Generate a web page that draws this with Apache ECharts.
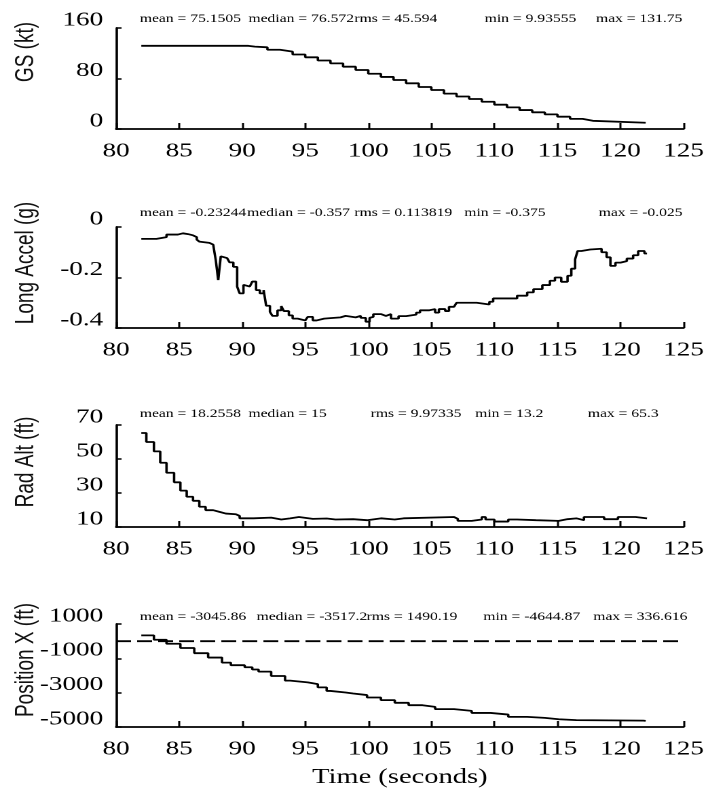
<!DOCTYPE html>
<html>
<head>
<meta charset="utf-8">
<script src="https://cdn.jsdelivr.net/npm/echarts@6/dist/echarts.min.js"></script>
<style>
  html, body { margin: 0; padding: 0; background: #fff; overflow: hidden; }
  /* the plot is laid out on a narrow page and widened horizontally */
  #chart { width: 523px; height: 798px; transform: scaleX(1.3576); transform-origin: 0 0; }
</style>
</head>
<body>
<div id="chart"></div>
<script>
// Ground speed (kt), sample-and-hold
const gsTime = [82, 90, 90.5, 91, 92, 93, 94, 95, 96, 97, 98, 99, 100, 101, 102, 103, 104, 105, 106, 107, 108, 109, 110, 111, 112, 113, 114, 115, 116, 117, 117.8, 122];
const gsValue = [131.75, 131.75, 130.5, 129.4, 125.5, 122.5, 118, 113.6, 108.5, 104, 98.7, 93.5, 87.5, 82.5, 77.6, 72.4, 66.5, 61.8, 56, 51.5, 47.5, 43.2, 38.5, 34.3, 30, 26.4, 23.2, 19.5, 16, 13, 9.94, 9.94];

// Longitudinal acceleration (g)
const accTime = [82, 83.2, 84.0, 84.9, 85.3, 85.7, 86.1, 86.4, 86.6, 86.8, 87.4, 87.7, 87.9, 88.1, 88.3, 88.45, 88.8, 89.0, 89.3, 89.6, 89.8, 90.1, 90.3, 90.6, 90.8, 91.1, 91.4, 91.7, 91.9, 92.2, 92.4, 92.8, 93.1, 93.3, 93.7, 94.0, 94.4, 95.0, 95.2, 95.6, 95.9, 96.1, 96.5, 97.0, 97.8, 98.2, 99.0, 99.4, 99.8, 100.1, 100.2, 100.4, 101.0, 101.4, 101.8, 102.4, 103.0, 103.8, 104.1, 104.8, 105.3, 105.6, 106.1, 106.4, 106.8, 107.0, 108.6, 109.6, 109.9, 111.8, 112.6, 113.1, 113.8, 114.4, 114.8, 115.3, 115.8, 116.1, 116.4, 116.6, 116.9, 117.6, 118.5, 118.9, 119.2, 119.6, 120.0, 120.5, 121.0, 121.4, 121.9, 122.1];
const accValue = [-0.047, -0.04, -0.03, -0.025, -0.028, -0.033, -0.04, -0.05, -0.058, -0.063, -0.07, -0.076, -0.13, -0.21, -0.116, -0.123, -0.13, -0.14, -0.158, -0.236, -0.263, -0.229, -0.236, -0.243, -0.216, -0.25, -0.263, -0.25, -0.312, -0.336, -0.352, -0.33, -0.313, -0.333, -0.35, -0.363, -0.37, -0.375, -0.356, -0.37, -0.372, -0.363, -0.361, -0.358, -0.352, -0.358, -0.352, -0.36, -0.375, -0.36, -0.356, -0.345, -0.352, -0.345, -0.363, -0.353, -0.347, -0.339, -0.33, -0.325, -0.339, -0.325, -0.333, -0.316, -0.31, -0.3, -0.307, -0.296, -0.283, -0.272, -0.259, -0.246, -0.23, -0.213, -0.2, -0.217, -0.193, -0.165, -0.128, -0.095, -0.089, -0.086, -0.1, -0.12, -0.154, -0.141, -0.135, -0.125, -0.112, -0.095, -0.105, -0.105];

// Radar altitude (ft)
const altTime = [82, 82.4, 83.0, 83.5, 84.0, 84.6, 85.1, 85.6, 86.1, 86.6, 87.1, 87.7, 88.2, 88.7, 89.5, 89.8, 90.9, 92.3, 93.1, 93.8, 94.5, 95.6, 96.7, 97.4, 98.8, 99.9, 101.0, 102.1, 102.8, 106.8, 107.1, 108.2, 109.0, 109.3, 110.0, 111.1, 111.8, 113.3, 115.1, 115.8, 116.5, 117.1, 118.7, 119.8, 121.2, 122.1];
const altValue = [65.3, 60, 54.5, 47.8, 41.9, 36.3, 31.4, 27.8, 25.4, 21.9, 19.9, 18.9, 17.9, 17.5, 16.5, 15.1, 15.5, 14.4, 15.1, 15.9, 14.8, 15, 14.4, 14.6, 14, 15.1, 14.4, 15.1, 15.9, 14.8, 13.6, 14.4, 15.9, 14.4, 13.2, 14.4, 14, 13.6, 14.6, 15.1, 14, 15.9, 14.6, 15.9, 15.1, 15.1];

// Position X (ft)
const posTime = [82, 83, 84, 85.1, 86.2, 87.3, 88.4, 89.1, 90.2, 90.8, 91.3, 92.3, 93.4, 93.8, 95.2, 96.0, 96.7, 97.0, 98.2, 98.8, 99.9, 101, 102.1, 103.2, 104.3, 105.3, 106.8, 108.2, 109.7, 111.1, 112.6, 114, 115.1, 116.5, 121.8, 122];
const posValue = [336.616, 82, -150, -400, -700, -955, -1250, -1400, -1520, -1650, -1775, -2030, -2300, -2400, -2500, -2690, -2900, -2990, -3050, -3140, -3280, -3435, -3590, -3730, -3830, -3960, -4060, -4180, -4275, -4410, -4470, -4550, -4600, -4630, -4644.87, -4644.87];
const posReference = 0;

// Axis tick labels
const timeTicks = [80, 85, 90, 95, 100, 105, 110, 115, 120, 125];
const gsTicks = [0, 80, 160];
const accTicks = [-0.4, -0.2, 0];
const altTicks = [10, 30, 50, 70];
const posTicks = [-5000, -3000, -1000, 1000];

const axisTitles = ['GS (kt)', 'Long Accel (g)', 'Rad Alt (ft)', 'Position X (ft)'];
const statLines = [
  [['mean = 75.1505', 103], ['median = 76.572', 183], ['rms = 45.594', 261], ['min = 9.93555', 357], ['max = 131.75', 439]],
  [['mean = -0.23244', 103], ['median = -0.357', 182], ['rms = 0.113819', 261], ['min = -0.375', 342], ['max = -0.025', 441]],
  [['mean = 18.2558', 103], ['median = 15', 183], ['rms = 9.97335', 273], ['min = 13.2', 350], ['max = 65.3', 433]],
  [['mean = -3045.86', 103], ['median = -3517.2', 189], ['rms = 1490.19', 270], ['min = -4644.87', 356], ['max = 336.616', 437]]
];

const panels = [
  { t: gsTime, v: gsValue, ticks: gsTicks, min: 0, max: 160, top: 28, h: 101, statY: 19, titleY: 52 },
  { t: accTime, v: accValue, ticks: accTicks, min: -0.4, max: 0, top: 227, h: 101, statY: 213, titleY: 263 },
  { t: altTime, v: altValue, ticks: altTicks, min: 10, max: 70, top: 425, h: 102, statY: 414, titleY: 462 },
  { t: posTime, v: posValue, ticks: posTicks, min: -5000, max: 1000, top: 624, h: 103, statY: 617, titleY: 660 }
];
const PLOT_LEFT = 85.5, PLOT_W = 418;
const serif = 'Liberation Serif';
const sans = 'Liberation Sans';

const grid = [], xAxis = [], yAxis = [], series = [], graphic = [];
panels.forEach((p, i) => {
  grid.push({ left: PLOT_LEFT, width: PLOT_W, top: p.top, height: p.h });
  xAxis.push({
    type: 'value', gridIndex: i, min: 80, max: 125, interval: 5,
    axisLine: { onZero: false, lineStyle: { color: '#000', width: 1.8 } },
    axisTick: { inside: true, length: 6, customValues: timeTicks,
      lineStyle: { color: '#000', width: 1.5 } },
    axisLabel: { color: '#000', fontFamily: serif, fontSize: 20, margin: 12,
      customValues: timeTicks },
    splitLine: { show: false },
    name: i === 3 ? 'Time (seconds)' : '',
    nameLocation: 'middle', nameGap: 40,
    nameTextStyle: { color: '#000', fontFamily: serif, fontSize: 21 }
  });
  yAxis.push({
    type: 'value', gridIndex: i, min: p.min, max: p.max,
    axisLine: { show: true, onZero: false, lineStyle: { color: '#000', width: 1.8 } },
    axisTick: { show: true, inside: true, length: 4, customValues: p.ticks,
      lineStyle: { color: '#000', width: 1.5 } },
    axisLabel: { color: '#000', fontFamily: serif, fontSize: 20, margin: 9.5,
      verticalAlign: 'bottom', lineHeight: 16, customValues: p.ticks,
      formatter: v => String(v) },
    splitLine: { show: false }
  });
  series.push({
    type: 'line', xAxisIndex: i, yAxisIndex: i, step: 'end', symbol: 'none',
    lineStyle: { color: '#000', width: 1.8 },
    data: p.t.map((t, k) => [t, p.v[k]]),
    silent: true
  });

  graphic.push({
    type: 'text', x: 19.5, y: p.titleY, rotation: Math.PI / 2,
    style: { text: axisTitles[i], font: '19px ' + sans, fill: '#111',
      align: 'center', verticalAlign: 'middle' }
  });
  statLines[i].forEach(([txt, x]) => {
    graphic.push({
      type: 'text', x: x, y: p.statY,
      style: { text: txt, font: '11.5px ' + serif, fill: '#000',
        align: 'left', verticalAlign: 'middle' }
    });
  });
});

// dashed zero reference across the Position X panel
series.push({
  type: 'line', xAxisIndex: 3, yAxisIndex: 3, symbol: 'none', silent: true,
  lineStyle: { color: '#000', width: 1.8, type: [11, 4.5] },
  data: [[80, posReference], [125, posReference]]
});

const chart = echarts.init(document.getElementById('chart'), null, { renderer: 'canvas', devicePixelRatio: 2 });
chart.setOption({
  animation: false,
  backgroundColor: '#fff',
  grid, xAxis, yAxis, series, graphic
});
</script>
</body>
</html>
